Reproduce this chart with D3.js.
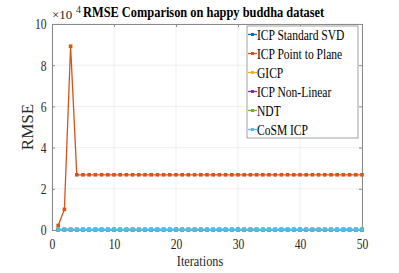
<!DOCTYPE html>
<html>
<head>
<meta charset="utf-8">
<script src="https://cdn.jsdelivr.net/npm/d3@7/dist/d3.min.js"></script>
<style>
  body { margin: 0; background: #fff; }
  text { font-family: "Liberation Serif", "Times New Roman", serif; }
</style>
</head>
<body>
<div id="chart"></div>
<script>
const iterations = [1,2,3,4,5,6,7,8,9,10,11,12,13,14,15,16,17,18,19,20,21,22,23,24,25,26,27,28,29,30,31,32,33,34,35,36,37,38,39,40,41,42,43,44,45,46,47,48,49,50];
// values in units of 1e-4
const standardSVD = [0.02,0.02,0.02,0.02,0.02,0.02,0.02,0.02,0.02,0.02,0.02,0.02,0.02,0.02,0.02,0.02,0.02,0.02,0.02,0.02,0.02,0.02,0.02,0.02,0.02,0.02,0.02,0.02,0.02,0.02,0.02,0.02,0.02,0.02,0.02,0.02,0.02,0.02,0.02,0.02,0.02,0.02,0.02,0.02,0.02,0.02,0.02,0.02,0.02,0.02];
const pointToPlane = [0.22,1.0,8.92,2.68,2.68,2.68,2.68,2.68,2.68,2.68,2.68,2.68,2.68,2.68,2.68,2.68,2.68,2.68,2.68,2.68,2.68,2.68,2.68,2.68,2.68,2.68,2.68,2.68,2.68,2.68,2.68,2.68,2.68,2.68,2.68,2.68,2.68,2.68,2.68,2.68,2.68,2.68,2.68,2.68,2.68,2.68,2.68,2.68,2.68,2.68];
const gicp = [0.02,0.02,0.02,0.02,0.02,0.02,0.02,0.02,0.02,0.02,0.02,0.02,0.02,0.02,0.02,0.02,0.02,0.02,0.02,0.02,0.02,0.02,0.02,0.02,0.02,0.02,0.02,0.02,0.02,0.02,0.02,0.02,0.02,0.02,0.02,0.02,0.02,0.02,0.02,0.02,0.02,0.02,0.02,0.02,0.02,0.02,0.02,0.02,0.02,0.02];
const nonLinear = [0.02,0.02,0.02,0.02,0.02,0.02,0.02,0.02,0.02,0.02,0.02,0.02,0.02,0.02,0.02,0.02,0.02,0.02,0.02,0.02,0.02,0.02,0.02,0.02,0.02,0.02,0.02,0.02,0.02,0.02,0.02,0.02,0.02,0.02,0.02,0.02,0.02,0.02,0.02,0.02,0.02,0.02,0.02,0.02,0.02,0.02,0.02,0.02,0.02,0.02];
const ndt = [0.02,0.02,0.02,0.02,0.02,0.02,0.02,0.02,0.02,0.02,0.02,0.02,0.02,0.02,0.02,0.02,0.02,0.02,0.02,0.02,0.02,0.02,0.02,0.02,0.02,0.02,0.02,0.02,0.02,0.02,0.02,0.02,0.02,0.02,0.02,0.02,0.02,0.02,0.02,0.02,0.02,0.02,0.02,0.02,0.02,0.02,0.02,0.02,0.02,0.02];
const cosmICP = [0.02,0.02,0.02,0.02,0.02,0.02,0.02,0.02,0.02,0.02,0.02,0.02,0.02,0.02,0.02,0.02,0.02,0.02,0.02,0.02,0.02,0.02,0.02,0.02,0.02,0.02,0.02,0.02,0.02,0.02,0.02,0.02,0.02,0.02,0.02,0.02,0.02,0.02,0.02,0.02,0.02,0.02,0.02,0.02,0.02,0.02,0.02,0.02,0.02,0.02];

const seriesNames = ['ICP Standard SVD','ICP Point to Plane','GICP','ICP Non-Linear','NDT','CoSM ICP'];
const seriesValues = [standardSVD, pointToPlane, gicp, nonLinear, ndt, cosmICP];
const colors = ['#0072BD','#D95319','#EDB120','#7E2F8E','#77AC30','#4DBEEE'];
const xTicks = [0,10,20,30,40,50];
const yTicks = [0,2,4,6,8,10];

const width = 399, height = 273;
const margin = {top: 24, right: 37, bottom: 43, left: 52};
const iw = width - margin.left - margin.right;
const ih = height - margin.top - margin.bottom;
const squash = 0.75; // the text in the picture is narrow

const svg = d3.select('#chart').append('svg')
  .attr('width', width)
  .attr('height', height);

const x = d3.scaleLinear().domain([0, 50]).range([0, iw]);
const y = d3.scaleLinear().domain([0, 10]).range([ih, 0]);

const g = svg.append('g').attr('transform', `translate(${margin.left},${margin.top})`);

// grid
g.append('g').selectAll('line')
  .data(xTicks).enter().append('line')
  .attr('x1', d => x(d)).attr('x2', d => x(d))
  .attr('y1', 0).attr('y2', ih)
  .style('stroke', '#ebebeb').style('stroke-width', 0.8);
g.append('g').selectAll('line')
  .data(yTicks).enter().append('line')
  .attr('x1', 0).attr('x2', iw)
  .attr('y1', d => y(d)).attr('y2', d => y(d))
  .style('stroke', '#ebebeb').style('stroke-width', 0.8);

// axes
const xAxis = g.append('g').attr('transform', `translate(0,${ih})`)
  .call(d3.axisBottom(x).tickValues(xTicks).tickSizeInner(-3).tickSizeOuter(0).tickPadding(8));
const yAxis = g.append('g')
  .call(d3.axisLeft(y).tickValues(yTicks).tickSizeInner(-3).tickSizeOuter(0).tickPadding(7));
g.append('g').attr('transform', `translate(${iw},0)`)
  .call(d3.axisLeft(y).tickValues(yTicks).tickSize(3).tickFormat(''));
g.append('g')
  .call(d3.axisBottom(x).tickValues(xTicks).tickSize(3).tickFormat(''));
g.selectAll('.domain').style('stroke', '#8a8a8a');
g.selectAll('.tick line').style('stroke', '#8a8a8a');
[xAxis, yAxis].forEach(a => a.selectAll('.tick text')
  .style('font-family', '"Liberation Serif", serif')
  .style('font-size', '15.5px')
  .style('fill', '#262626'));
xAxis.selectAll('.tick text').attr('transform', `scale(${squash},1)`);
yAxis.selectAll('.tick text')
  .attr('x', -5.5 / squash).attr('transform', `scale(${squash},1)`);

// lines
const line = d3.line().x((d, i) => x(iterations[i])).y(d => y(d));
seriesValues.forEach((vals, k) => {
  const s = g.append('g');
  s.append('path').datum(vals)
    .attr('d', line)
    .style('fill', 'none')
    .style('stroke', colors[k])
    .style('stroke-width', k === 5 ? 2.2 : 1.3);
  s.selectAll('rect').data(vals).enter().append('rect')
    .attr('x', (d, i) => x(iterations[i]) - 1.8)
    .attr('y', d => y(d) - 1.8)
    .attr('width', 3.6).attr('height', 3.6)
    .style('fill', colors[k]);
});

// narrow text helper
function label(px, py, str, size, sx, opts = {}) {
  return svg.append('text')
    .attr('transform', `translate(${px},${py}) scale(${sx},1)`)
    .attr('text-anchor', opts.anchor || 'start')
    .style('font-size', size + 'px')
    .style('font-weight', opts.bold ? 'bold' : 'normal')
    .style('fill', opts.fill || '#262626')
    .text(str);
}

// title and exponent
label(83, 17, 'RMSE Comparison on happy buddha dataset', 15.5, 0.8, {bold: true, fill: '#000'});
label(52, 19, '\u00d710', 13, 1);
label(76, 13, '4', 10, 1);

// axis labels
label(200, 266, 'Iterations', 15, 0.82, {anchor: 'middle'});
svg.append('text')
  .attr('transform', `translate(33,${margin.top + ih / 2}) rotate(-90)`)
  .attr('text-anchor', 'middle')
  .style('font-size', '17px').style('fill', '#262626')
  .text('RMSE');

// legend
const lg = svg.append('g').attr('transform', 'translate(247,26)');
lg.append('rect')
  .attr('width', 111).attr('height', 112)
  .style('fill', '#fff').style('stroke', '#8a8a8a').style('stroke-width', 0.8);
seriesNames.forEach((name, k) => {
  const yy = 8.5 + k * 19;
  lg.append('line')
    .attr('x1', 1).attr('x2', 10).attr('y1', yy).attr('y2', yy)
    .style('stroke', colors[k]).style('stroke-width', 1.3);
  lg.append('rect')
    .attr('x', 4).attr('y', yy - 1.5).attr('width', 3).attr('height', 3)
    .style('fill', colors[k]);
  lg.append('text')
    .attr('transform', `translate(10,${yy + 5}) scale(0.77,1)`)
    .style('font-size', '15px').style('fill', '#000')
    .text(name);
});
</script>
</body>
</html>
